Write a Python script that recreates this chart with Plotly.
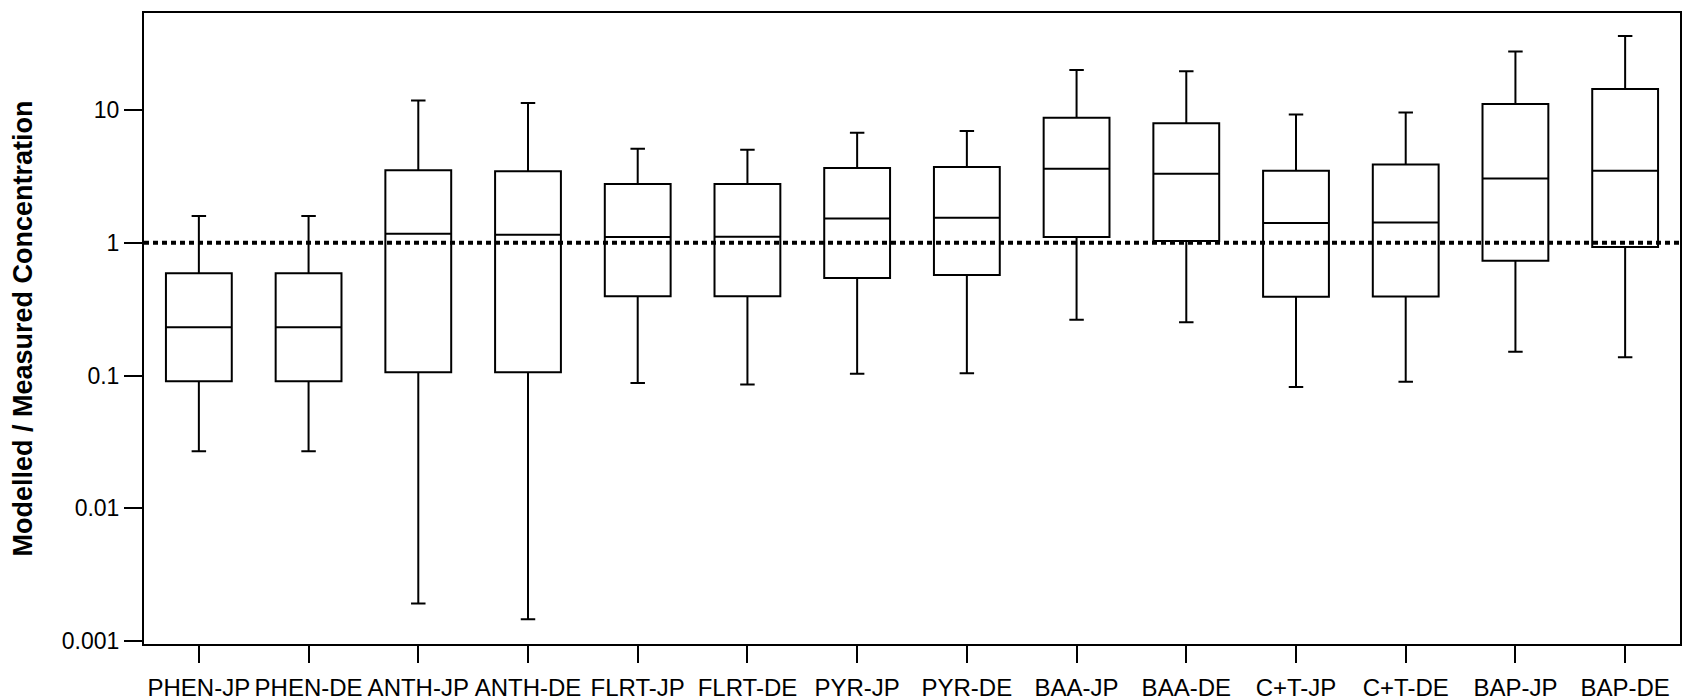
import plotly.graph_objects as go

categories = ["PHEN-JP", "PHEN-DE", "ANTH-JP", "ANTH-DE", "FLRT-JP", "FLRT-DE", "PYR-JP",
              "PYR-DE", "BAA-JP", "BAA-DE", "C+T-JP", "C+T-DE", "BAP-JP", "BAP-DE"]
lower_whisker = [0.0269, 0.0269, 0.00192, 0.00146, 0.0879, 0.0854, 0.103,
                 0.104, 0.263, 0.252, 0.0818, 0.0898, 0.151, 0.137]
q1_values = [0.0904, 0.0904, 0.106, 0.106, 0.396, 0.396, 0.543,
             0.572, 1.105, 1.03, 0.391, 0.394, 0.73, 0.93]
median_values = [0.231, 0.231, 1.17, 1.15, 1.105, 1.11, 1.52,
                 1.54, 3.61, 3.31, 1.41, 1.42, 3.04, 3.48]
q3_values = [0.59, 0.59, 3.51, 3.46, 2.77, 2.77, 3.66,
             3.72, 8.73, 7.94, 3.48, 3.88, 11.1, 14.4]
upper_whisker = [1.59, 1.59, 11.8, 11.3, 5.1, 5.02, 6.74,
                 6.94, 20.0, 19.6, 9.24, 9.58, 27.5, 36.1]

y_tick_vals = [0.001, 0.01, 0.1, 1, 10]
y_tick_text = ["0.001", "0.01", "0.1", "1", "10"]
reference_ratio = 1

FONT = "Liberation Sans, Arial, sans-serif"

fig = go.Figure()
fig.add_trace(go.Box(
    x=categories,
    q1=q1_values,
    median=median_values,
    q3=q3_values,
    lowerfence=lower_whisker,
    upperfence=upper_whisker,
    boxpoints=False,
    width=0.6,
    whiskerwidth=0.22,
    fillcolor="rgba(0,0,0,0)",
    line=dict(color="black", width=2),
    showlegend=False,
    hoverinfo="skip",
))

fig.add_shape(type="line", xref="paper", yref="y", x0=0, x1=1,
              y0=reference_ratio, y1=reference_ratio, layer="above",
              line=dict(color="black", width=4, dash="5px,4px"))

fig.update_layout(
    width=1684, height=700,
    margin=dict(l=144, r=4, t=13, b=56),
    paper_bgcolor="white", plot_bgcolor="white",
    font=dict(family=FONT, size=24, color="black"),
    showlegend=False,
)
fig.update_xaxes(
    type="category", range=[-0.5, 13.5], automargin=False,
    showline=True, linecolor="black", linewidth=2, mirror=True,
    ticks="outside", ticklen=17, tickwidth=2, tickcolor="black",
    showgrid=False, zeroline=False, ticklabelstandoff=4,
    tickfont=dict(family=FONT, size=24, color="black"),
)
fig.update_yaxes(
    type="log", range=[-3.022, 1.73], automargin=False,
    tickvals=y_tick_vals, ticktext=y_tick_text,
    showline=True, linecolor="black", linewidth=2, mirror=True,
    ticks="outside", ticklen=18, tickwidth=2, tickcolor="black",
    showgrid=False, zeroline=False,
    tickfont=dict(family=FONT, size=23, color="black"),
    title=dict(text="<b>Modelled / Measured Concentration</b>",
               font=dict(family=FONT, size=27, color="black"), standoff=21),
)

fig.write_html("out.html")
